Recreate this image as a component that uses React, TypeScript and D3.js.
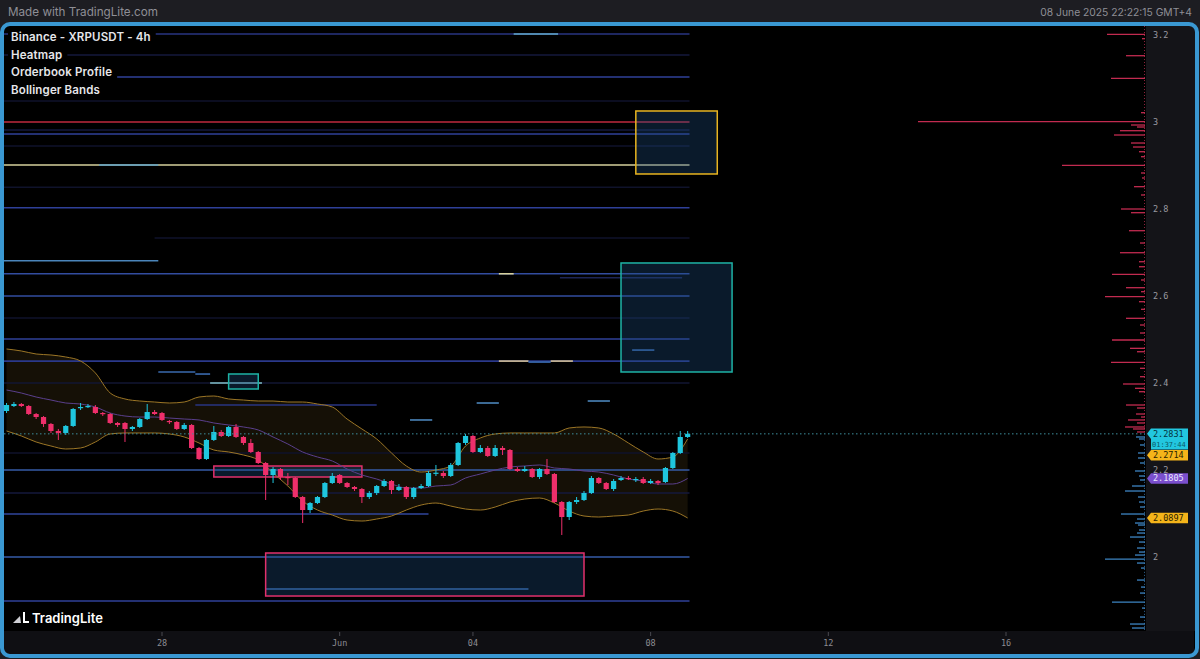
import { useEffect, useRef } from 'react'
import * as d3 from 'd3'

// XRPUSDT 4h candles, first candle centred at candleStart
const candleStart = '05-24T12'
const candleHours = 4
const candleOpen = [2.3356, 2.3471, 2.3517, 2.3471, 2.3287, 2.3218, 2.3058, 2.2897, 2.2851, 2.3012,
  2.3425, 2.3448, 2.3448, 2.331, 2.3287, 2.3081, 2.3081, 2.2943, 2.2989, 2.3172,
  2.3333, 2.331, 2.3127, 2.3104, 2.2943, 2.3035, 2.2506, 2.2253, 2.269, 2.2874,
  2.2782, 2.2989, 2.2759, 2.2621, 2.2414, 2.2161, 2.1885, 2.2023, 2.1839, 2.1816,
  2.1379, 2.108, 2.1241, 2.1379, 2.1701, 2.1885, 2.1701, 2.1609, 2.1563, 2.1379,
  2.1471, 2.1632, 2.1747, 2.154, 2.1609, 2.1379, 2.1586, 2.1632, 2.1931, 2.1931,
  2.1862, 2.2115, 2.2621, 2.2782, 2.2414, 2.2506, 2.2322, 2.2506, 2.246, 2.2023,
  2.1977, 2.2023, 2.1839, 2.2023, 2.1908, 2.1264, 2.0919, 2.1264, 2.131, 2.1471,
  2.1816, 2.1701, 2.1563, 2.177, 2.1816, 2.177, 2.1793, 2.1701, 2.1747, 2.1724,
  2.2046, 2.2391, 2.2759]
const candleHigh = [2.354, 2.3563, 2.354, 2.3494, 2.331, 2.3241, 2.3081, 2.2943, 2.3035, 2.3425,
  2.354, 2.3517, 2.3494, 2.3333, 2.331, 2.3104, 2.3104, 2.3012, 2.3195, 2.3517,
  2.3379, 2.3333, 2.315, 2.3127, 2.3081, 2.3058, 2.2529, 2.2713, 2.3012, 2.292,
  2.3012, 2.3058, 2.2782, 2.2713, 2.2437, 2.2184, 2.2069, 2.2046, 2.1931, 2.1839,
  2.1402, 2.1264, 2.1402, 2.1724, 2.1931, 2.1908, 2.1724, 2.1632, 2.1586, 2.1517,
  2.1655, 2.1793, 2.177, 2.1678, 2.1632, 2.1609, 2.1678, 2.1977, 2.2115, 2.1977,
  2.2161, 2.2644, 2.2828, 2.2805, 2.2575, 2.2552, 2.2575, 2.2552, 2.2483, 2.2069,
  2.2092, 2.2046, 2.2046, 2.2253, 2.1931, 2.1287, 2.1287, 2.1379, 2.1517, 2.1862,
  2.1839, 2.1724, 2.1793, 2.1862, 2.1862, 2.1839, 2.1839, 2.1793, 2.177, 2.2069,
  2.2414, 2.2897, 2.2897]
const candleLow = [2.331, 2.3448, 2.3448, 2.3264, 2.3172, 2.2989, 2.2851, 2.269, 2.2805, 2.2989,
  2.3379, 2.3425, 2.3287, 2.3241, 2.3058, 2.2989, 2.2644, 2.2897, 2.2966, 2.315,
  2.3264, 2.3127, 2.3058, 2.292, 2.292, 2.2483, 2.223, 2.223, 2.2667, 2.2759,
  2.2759, 2.2736, 2.2575, 2.2391, 2.2138, 2.131, 2.1701, 2.177, 2.1655, 2.1356,
  2.0781, 2.1011, 2.1218, 2.1356, 2.1678, 2.1678, 2.1586, 2.1517, 2.1241, 2.1333,
  2.1425, 2.1609, 2.1448, 2.1517, 2.1333, 2.1333, 2.1563, 2.1609, 2.1862, 2.1816,
  2.1839, 2.2092, 2.2575, 2.2391, 2.2391, 2.2299, 2.2299, 2.2345, 2.2, 2.1954,
  2.1954, 2.1816, 2.1793, 2.1885, 2.1241, 2.0506, 2.085, 2.1218, 2.1287, 2.1448,
  2.1678, 2.154, 2.1517, 2.1747, 2.177, 2.1724, 2.1678, 2.1678, 2.1655, 2.1701,
  2.2023, 2.2368, 2.2736]
const candleClose = [2.3494, 2.3517, 2.3471, 2.3287, 2.3218, 2.3058, 2.2897, 2.2851, 2.3012, 2.3402,
  2.3448, 2.3471, 2.331, 2.3287, 2.3081, 2.3035, 2.2943, 2.2989, 2.3172, 2.3333,
  2.3287, 2.315, 2.3104, 2.2943, 2.3035, 2.2506, 2.2253, 2.269, 2.2874, 2.2782,
  2.2989, 2.2759, 2.2621, 2.2414, 2.2161, 2.1885, 2.2023, 2.1839, 2.1816, 2.1379,
  2.108, 2.1241, 2.1379, 2.1701, 2.1862, 2.1701, 2.1609, 2.1563, 2.1379, 2.1471,
  2.1632, 2.1747, 2.154, 2.1609, 2.1379, 2.1586, 2.1632, 2.1931, 2.1938, 2.1862,
  2.2115, 2.2621, 2.2782, 2.2414, 2.2506, 2.2322, 2.2506, 2.246, 2.2023, 2.1977,
  2.2023, 2.1839, 2.2023, 2.1908, 2.1264, 2.0919, 2.1264, 2.131, 2.1471, 2.1816,
  2.1701, 2.1563, 2.1747, 2.1816, 2.1793, 2.1793, 2.1701, 2.1747, 2.1701, 2.2046,
  2.2391, 2.2759, 2.2831]

// Bollinger bands, read every second candle
const bandStep = 2
const bandUpper = [2.4782, 2.4736, 2.4667, 2.4644, 2.4598, 2.4506, 2.4231, 2.3771, 2.3633, 2.3586,
  2.3563, 2.354, 2.3563, 2.3678, 2.3701, 2.3633, 2.3609, 2.3586, 2.3586, 2.3563,
  2.3563, 2.3517, 2.3448, 2.3172, 2.2943, 2.2713, 2.2391, 2.2092, 2.1954, 2.2,
  2.2092, 2.2552, 2.2736, 2.2828, 2.2851, 2.2851, 2.2851, 2.2851, 2.2966, 2.2989,
  2.2966, 2.2828, 2.2621, 2.2414, 2.2253, 2.2299, 2.2714]
const bandMiddle = [2.3839, 2.377, 2.3678, 2.3609, 2.354, 2.3517, 2.3448, 2.331, 2.3241, 2.3218,
  2.3218, 2.3195, 2.3172, 2.315, 2.3081, 2.3035, 2.2989, 2.292, 2.2759, 2.2598,
  2.2414, 2.2299, 2.2207, 2.2023, 2.1885, 2.1793, 2.1678, 2.1586, 2.1586, 2.1632,
  2.1655, 2.1816, 2.1908, 2.2, 2.2069, 2.2092, 2.2115, 2.2046, 2.2023, 2.1977,
  2.1954, 2.1885, 2.1793, 2.1747, 2.1678, 2.1678, 2.1805]
const bandLower = [2.2897, 2.2782, 2.2644, 2.2552, 2.2483, 2.2506, 2.2644, 2.2828, 2.2851, 2.2851,
  2.2851, 2.2828, 2.2759, 2.2621, 2.246, 2.2414, 2.2345, 2.223, 2.1931, 2.1632,
  2.1287, 2.108, 2.0965, 2.085, 2.0827, 2.0873, 2.0942, 2.108, 2.1195, 2.1241,
  2.1172, 2.1103, 2.108, 2.1149, 2.1264, 2.1333, 2.1356, 2.1241, 2.1057, 2.0942,
  2.0919, 2.0942, 2.0965, 2.1057, 2.1103, 2.1057, 2.0897]

// Heatmap liquidity rows: price, from, to, intensity (0..1)
const heatPrice = [3.2023, 3.2023, 3.154, 3.1035, 3.0483, 3.0, 2.9816, 2.9724, 2.9448, 2.901,
  2.901, 2.85, 2.8028, 2.7335, 2.681, 2.6511, 2.6511, 2.6419, 2.5999, 2.5493,
  2.501, 2.4757, 2.4504, 2.4504, 2.4481, 2.4504, 2.4252, 2.4206, 2.4, 2.4,
  2.3586, 2.354, 2.3494, 2.315, 2.2391, 2.2, 2.1471, 2.0987, 2.0, 1.9264,
  1.8988]
const heatFrom = ['05-24T00', '06-04T22', '05-24T00', '05-26T21', '05-24T00', '05-24T00', '05-24T00', '05-24T00', '05-24T00', '05-24T00',
  '05-26T14', '05-24T00', '05-24T00', '05-27T20', '05-24T00', '05-24T00', '06-04T14', '06-05T23', '05-24T00', '05-24T00',
  '05-24T00', '06-07T14', '05-24T00', '06-04T14', '06-05T06', '06-05T18', '05-27T22', '05-28T18', '05-24T00', '05-29T02',
  '06-06T14', '06-04T02', '05-28T18', '06-02T14', '05-24T00', '05-24T00', '05-24T00', '05-24T00', '05-24T00', '05-30T08',
  '05-24T00']
const heatTo = ['06-08T21', '06-05T22', '06-08T21', '06-08T21', '06-08T21', '06-08T21', '06-08T21', '06-08T21', '06-08T21', '06-08T21',
  '05-27T22', '06-08T21', '06-08T21', '06-08T21', '05-27T22', '06-08T21', '06-04T22', '06-08T17', '06-08T21', '06-08T21',
  '06-08T21', '06-08T02', '06-08T21', '06-05T06', '06-05T18', '06-06T06', '05-28T18', '05-29T02', '06-08T21', '05-30T06',
  '06-07T02', '06-04T14', '06-01T20', '06-03T02', '06-08T21', '06-08T21', '06-08T21', '06-03T00', '06-08T21', '06-05T06',
  '06-08T21']
const heatLevel = [0.3, 0.62, 0.14, 0.36, 0.1, 1.0, 0.14, 0.36, 0.1, 0.8,
  0.6, 0.1, 0.36, 0.1, 0.55, 0.4, 0.8, 0.2, 0.4, 0.1,
  0.36, 0.5, 0.32, 0.82, 0.5, 0.82, 0.5, 0.5, 0.12, 0.68,
  0.55, 0.55, 0.3, 0.55, 0.1, 0.45, 0.14, 0.38, 0.45, 0.5,
  0.36]

// Drawn zones
const boxFrom = ['06-07T16', '06-07T08', '05-29T12', '05-29T04', '05-30T08']
const boxTo = ['06-09T12', '06-09T20', '05-30T04', '06-01T12', '06-06T12']
const boxHigh = [3.0253, 2.6759, 2.4207, 2.2092, 2.0092]
const boxLow = [2.8805, 2.4253, 2.3862, 2.1839, 1.9103]
const boxKind = ['gold', 'teal', 'teal', 'pink', 'pink']

// Orderbook profile (size in k XRP)
const askPrices = [3.2016, 3.1915, 3.1524, 3.1005, 3.0214, 3.0007, 2.9931, 2.9885, 2.98, 2.9701,
  2.9517, 2.9425, 2.9317, 2.9202, 2.9005, 2.8828, 2.8713, 2.8513, 2.8322, 2.8,
  2.7915, 2.7501, 2.7218, 2.6995, 2.6788, 2.6673, 2.6499, 2.6368, 2.6191, 2.6099,
  2.5984, 2.5869, 2.5694, 2.5487, 2.5333, 2.5149, 2.4988, 2.4797, 2.4719, 2.4476,
  2.4338, 2.4145, 2.3977, 2.3878, 2.38, 2.3494, 2.3425, 2.3287, 2.3218, 2.315,
  2.3081, 2.2989, 2.2943, 2.2874]
const askSizes = [760, 60, 380, 680, 80, 4540, 280, 160, 500, 620,
  280, 240, 120, 80, 1660, 80, 60, 220, 80, 480,
  280, 320, 100, 500, 120, 120, 660, 80, 380, 80,
  800, 120, 80, 380, 100, 100, 660, 300, 160, 680,
  100, 100, 440, 200, 120, 380, 160, 180, 80, 340,
  160, 400, 240, 160]
const bidPrices = [2.2759, 2.2713, 2.2575, 2.2391, 2.2276, 2.2161, 2.1977, 2.1862, 2.177, 2.1632,
  2.1517, 2.1379, 2.1264, 2.1149, 2.0988, 2.0873, 2.0781, 2.0735, 2.062, 2.0551,
  2.0459, 2.0344, 2.0206, 2.0114, 2.0045, 1.9953, 1.9861, 1.9746, 1.947, 1.9309,
  1.9171, 1.8964, 1.8826, 1.862, 1.8459, 1.8367]
const bidSizes = [180, 120, 100, 140, 140, 100, 200, 120, 100, 260,
  400, 140, 120, 100, 480, 160, 200, 140, 120, 160,
  300, 120, 160, 120, 200, 800, 160, 80, 160, 80,
  100, 660, 60, 100, 300, 260]

// Price tags on the right axis
const tagPrice = [2.2831, 2.2714, 2.1805, 2.0897]
const tagKind = ['last', 'upper', 'middle', 'lower']
const countdown = '01:37:44'

// Axes
const priceTicks = [3.2, 3, 2.8, 2.6, 2.4, 2.2, 2]
const dateTicks = ['05-28T00', '06-01T00', '06-04T00', '06-08T00', '06-12T00', '06-16T00']
const dateTickLabels = ['28', 'Jun', '04', '08', '12', '16']

const legendLines = ['Binance - XRPUSDT - 4h', 'Heatmap', 'Orderbook Profile', 'Bollinger Bands']

const WIDTH = 1200
const HEIGHT = 659

const t = (s: string) => new Date(`2025-${s}:00Z`)

export default function App() {
  const svgRef = useRef<SVGSVGElement>(null)

  useEffect(() => {
    if (!svgRef.current) return
    document.body.style.margin = '0'
    const svg = d3.select(svgRef.current)
    svg.selectAll('*').remove()

    const plot = { left: 4, right: 1145, top: 26, bottom: 631 }
    const sans = 'Inter, "Noto Sans", sans-serif'
    const mono = '"DejaVu Sans Mono", "Liberation Mono", monospace'

    const x = d3.scaleUtc().domain([t('05-28T00'), t('06-16T00')]).range([162, 1006])
    const y = d3.scaleLinear().domain([2, 3]).range([557, 122])
    const profileX = d3.scaleLinear().domain([0, 5000]).range([plot.right, plot.right - 250])
    const heatColor = d3
      .scaleLinear<string>()
      .domain([0, 0.15, 0.35, 0.5, 0.65, 0.8, 1])
      .range(['#000000', '#161b40', '#2e3d98', '#3a6aae', '#6cbad2', '#d6d09c', '#c02a3e'])

    const start = t(candleStart).getTime()
    const candleTime = (i: number) => new Date(start + i * candleHours * 3600 * 1000)

    // background + header
    svg.append('rect').attr('width', WIDTH).attr('height', HEIGHT).attr('fill', '#1d1d22')
    svg.append('text').attr('x', 8).attr('y', 15.5)
      .attr('font-family', sans).attr('font-size', 11.7).attr('fill', '#8f8f96')
      .text('Made with TradingLite.com')
    svg.append('text').attr('x', 1192).attr('y', 15.5).attr('text-anchor', 'end')
      .attr('font-family', sans).attr('font-size', 10.3).attr('fill', '#8f8f96')
      .text('08 June 2025 22:22:15 GMT+4')

    // frame body
    svg.append('rect').attr('x', 2).attr('y', 24).attr('width', 1195).attr('height', 632)
      .attr('rx', 8).attr('fill', '#000')
    svg.append('rect').attr('x', plot.right + 1).attr('y', plot.top)
      .attr('width', 1194 - plot.right).attr('height', plot.bottom - plot.top).attr('fill', '#141418')
    svg.append('rect').attr('x', plot.left).attr('y', plot.bottom)
      .attr('width', 1190).attr('height', 23).attr('fill', '#0f0f13')

    const defs = svg.append('defs')
    defs.append('clipPath').attr('id', 'plot-clip').append('rect')
      .attr('x', plot.left).attr('y', plot.top)
      .attr('width', plot.right - plot.left).attr('height', plot.bottom - plot.top)

    const g = svg.append('g').attr('clip-path', 'url(#plot-clip)')

    // Bollinger fill
    const bandIdx = bandUpper.map((_, k) => k * bandStep)
    const area = d3.area<number>()
      .x((i) => x(candleTime(i)))
      .y0((_, k) => y(bandLower[k]))
      .y1((_, k) => y(bandUpper[k]))
      .curve(d3.curveMonotoneX)
    g.append('path').datum(bandIdx).attr('d', area).attr('fill', 'rgba(150,112,40,0.14)')

    // heatmap rows
    g.selectAll('line.heat')
      .data(heatPrice.map((p, i) => ({ p, from: t(heatFrom[i]), to: t(heatTo[i]), v: heatLevel[i] })))
      .enter()
      .append('line')
      .attr('x1', (d) => Math.max(plot.left, x(d.from)))
      .attr('x2', (d) => x(d.to))
      .attr('y1', (d) => y(d.p))
      .attr('y2', (d) => y(d.p))
      .attr('stroke', (d) => heatColor(d.v))
      .attr('stroke-width', 1.6)

    // zones
    const boxStroke: Record<string, string> = { gold: '#e8b420', teal: '#1eb3a6', pink: '#e2306c' }
    g.selectAll('rect.zone')
      .data(boxHigh.map((h, i) => ({ h, l: boxLow[i], from: t(boxFrom[i]), to: t(boxTo[i]), kind: boxKind[i] })))
      .enter()
      .append('rect')
      .attr('x', (d) => x(d.from))
      .attr('y', (d) => y(d.h))
      .attr('width', (d) => x(d.to) - x(d.from))
      .attr('height', (d) => y(d.l) - y(d.h))
      .attr('fill', 'rgba(30,80,130,0.33)')
      .attr('stroke', (d) => boxStroke[d.kind])
      .attr('stroke-width', 1.5)

    // band lines
    const bandLine = (vals: number[]) =>
      d3.line<number>().x((i) => x(candleTime(i))).y((_, k) => y(vals[k])).curve(d3.curveMonotoneX)(bandIdx)
    g.append('path').attr('d', bandLine(bandUpper)).attr('fill', 'none').attr('stroke', '#9c7626').attr('stroke-width', 1)
    g.append('path').attr('d', bandLine(bandLower)).attr('fill', 'none').attr('stroke', '#9c7626').attr('stroke-width', 1)
    g.append('path').attr('d', bandLine(bandMiddle)).attr('fill', 'none').attr('stroke', '#5a3f8c').attr('stroke-width', 1)

    // candles
    const candles = candleOpen.map((o, i) => ({
      time: candleTime(i), o, h: candleHigh[i], l: candleLow[i], c: candleClose[i],
    }))
    const upCol = '#1fc6de'
    const downCol = '#ee2f6b'
    const cg = g.selectAll('g.candle').data(candles).enter().append('g')
    cg.append('line')
      .attr('x1', (d) => x(d.time)).attr('x2', (d) => x(d.time))
      .attr('y1', (d) => y(d.h)).attr('y2', (d) => y(d.l))
      .attr('stroke', (d) => (d.c >= d.o ? upCol : downCol)).attr('stroke-width', 1)
    cg.append('rect')
      .attr('x', (d) => x(d.time) - 2.6)
      .attr('width', 5.2)
      .attr('y', (d) => y(Math.max(d.o, d.c)))
      .attr('height', (d) => Math.max(1.2, Math.abs(y(d.o) - y(d.c))))
      .attr('fill', (d) => (d.c >= d.o ? upCol : downCol))

    // orderbook profile
    const last = candleClose[candleClose.length - 1]
    g.append('line').attr('x1', plot.right - 0.5).attr('x2', plot.right - 0.5)
      .attr('y1', plot.top).attr('y2', y(last))
      .attr('stroke', '#b02a4c').attr('stroke-dasharray', '1,2').attr('opacity', 0.8)
    g.append('line').attr('x1', plot.right - 0.5).attr('x2', plot.right - 0.5)
      .attr('y1', y(last)).attr('y2', plot.bottom)
      .attr('stroke', '#3b7fba').attr('stroke-dasharray', '1,2').attr('opacity', 0.8)
    g.selectAll('line.ask')
      .data(askPrices.map((p, i) => ({ p, s: askSizes[i] })))
      .enter().append('line')
      .attr('x1', profileX(0)).attr('x2', (d) => profileX(d.s))
      .attr('y1', (d) => y(d.p)).attr('y2', (d) => y(d.p))
      .attr('stroke', '#c22b50').attr('stroke-width', 1.3)
    g.selectAll('line.bid')
      .data(bidPrices.map((p, i) => ({ p, s: bidSizes[i] })))
      .enter().append('line')
      .attr('x1', profileX(0)).attr('x2', (d) => profileX(d.s))
      .attr('y1', (d) => y(d.p)).attr('y2', (d) => y(d.p))
      .attr('stroke', '#3d84c2').attr('stroke-width', 1.3)

    // current price line
    g.append('line').attr('x1', plot.left).attr('x2', plot.right)
      .attr('y1', y(last)).attr('y2', y(last))
      .attr('stroke', '#3e8e9c').attr('stroke-width', 1).attr('stroke-dasharray', '1.5,2.5')

    // price axis labels
    svg.selectAll('text.price')
      .data(priceTicks).enter().append('text')
      .attr('x', 1153).attr('y', (d) => y(d)).attr('dy', '0.35em')
      .attr('font-family', mono).attr('font-size', 8.5).attr('fill', '#9a9aa0')
      .text((d) => d3.format('~g')(d))

    // time axis
    dateTicks.forEach((s, i) => {
      const xp = x(t(s))
      svg.append('line').attr('x1', xp).attr('x2', xp).attr('y1', 632).attr('y2', 636)
        .attr('stroke', '#4a4a50')
      svg.append('text').attr('x', xp).attr('y', 646).attr('text-anchor', 'middle')
        .attr('font-family', mono).attr('font-size', 8.5).attr('fill', '#8c8c92')
        .text(dateTickLabels[i])
    })

    // price tags with simple overlap avoidance
    const tagFill: Record<string, string> = { last: '#22c7df', upper: '#f4b41a', middle: '#7a4fcd', lower: '#f4b41a' }
    const tagText: Record<string, string> = { last: '#06343c', upper: '#2a1e00', middle: '#ece6ff', lower: '#2a1e00' }
    const tags = tagPrice
      .map((p, i) => ({ p, kind: tagKind[i], h: tagKind[i] === 'last' ? 21 : 10.5, top: y(p) - 5.25 }))
      .sort((a, b) => a.top - b.top)
    let prevBottom = -Infinity
    tags.forEach((tg) => {
      tg.top = Math.max(tg.top, prevBottom + 0.5)
      prevBottom = tg.top + tg.h
    })
    tags.forEach((tg) => {
      const x0 = 1147
      const w = 41
      const yt = tg.top
      const yb = tg.top + tg.h
      const cy = tg.top + 5.25
      svg.append('path')
        .attr('d', `M${x0},${cy} L${x0 + 4},${yt} L${x0 + w},${yt} L${x0 + w},${yb} L${x0 + 4},${yb} L${x0 + 4},${cy + 5.25} Z`)
        .attr('fill', tagFill[tg.kind])
      svg.append('text').attr('x', x0 + 6).attr('y', cy).attr('dy', '0.35em')
        .attr('font-family', mono).attr('font-size', 8.5).attr('fill', tagText[tg.kind])
        .text(tg.p.toFixed(4))
      if (tg.kind === 'last') {
        svg.append('text').attr('x', x0 + 5).attr('y', cy + 10.5).attr('dy', '0.35em')
          .attr('font-family', mono).attr('font-size', 7).attr('fill', '#0b5866')
          .text(countdown)
      }
    })

    // legend
    legendLines.forEach((txt, i) => {
      const ty = 41 + i * 17.5
      const bg = svg.append('rect').attr('fill', '#000')
      const te = svg.append('text').attr('x', 11).attr('y', ty)
        .attr('font-family', sans).attr('font-size', 11.5).attr('font-weight', 600)
        .attr('letter-spacing', 0.15).attr('fill', '#e6e6ea').text(txt)
      const len = (te.node() as SVGTextElement).getComputedTextLength()
      bg.attr('x', 8).attr('y', ty - 11).attr('width', len + 8).attr('height', 15)
    })

    // logo
    svg.append('path').attr('d', 'M13,623 L20,616 L21,623 Z').attr('fill', '#cfcfd4')
    svg.append('path').attr('d', 'M23,612 L25,612 L25,621 L29,621 L29,623 L23,623 Z').attr('fill', '#ffffff')
    svg.append('text').attr('x', 32).attr('y', 623)
      .attr('font-family', sans).attr('font-size', 13).attr('font-weight', 600)
      .attr('fill', '#ffffff').text('TradingLite')

    // frame border
    svg.append('rect').attr('x', 2).attr('y', 24).attr('width', 1195).attr('height', 632)
      .attr('rx', 8).attr('fill', 'none').attr('stroke', '#3a98d2').attr('stroke-width', 4)
  }, [])

  return (
    <svg
      ref={svgRef}
      width={WIDTH}
      height={HEIGHT}
      style={{ display: 'block', position: 'absolute', left: 0, top: 0 }}
    />
  )
}
